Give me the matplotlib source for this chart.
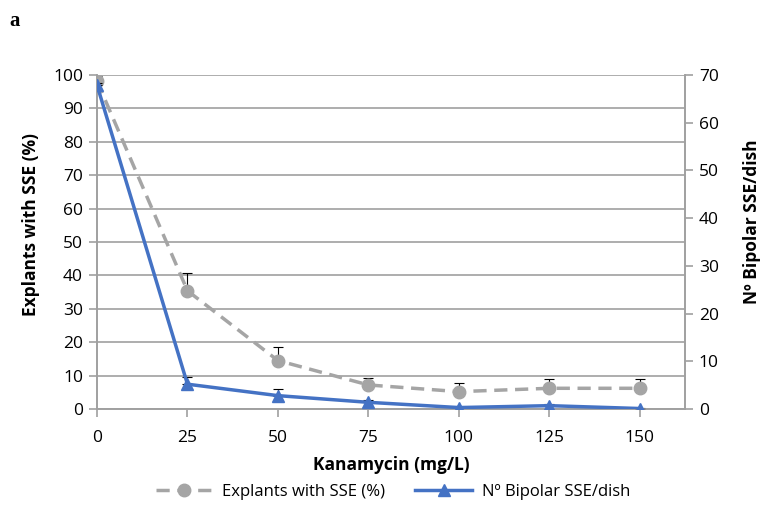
import matplotlib
matplotlib.use("Agg")
import matplotlib.pyplot as plt
from matplotlib.lines import Line2D

kanamycin = [0, 25, 50, 75, 100, 125, 150]
explants_pct = [98.2, 35.4, 14.5, 7.2, 5.2, 6.2, 6.2]
explants_err = [1.5, 5.2, 4.0, 2.0, 2.5, 2.7, 2.7]
bipolar = [67.9, 5.2, 2.8, 1.4, 0.3, 0.7, 0.1]
bipolar_err = [0.5, 1.6, 1.3, 0.5, 0.2, 0.3, 0.1]

plt.rcParams['font.family'] = ['Open Sans', 'DejaVu Sans']

W, H = 770, 523
fig = plt.figure(figsize=(7.7, 5.23), dpi=100)
ax = fig.add_axes([97 / W, 1 - 409 / H, 588 / W, 334 / H])
ax2 = ax.twinx()

gray = '#A5A5A5'
blue = '#4472C4'
axcol = '#A0A0A0'

ax.errorbar(kanamycin, explants_pct, yerr=[[0]*7, explants_err], fmt='none',
            ecolor='black', elinewidth=0.8, capsize=3.3, capthick=0.8, zorder=2)
ax.plot(kanamycin, explants_pct, color=gray, linestyle=(0, (3.8, 2.2)), linewidth=2.5,
        marker='o', markersize=9, zorder=3)
ax2.errorbar(kanamycin, bipolar, yerr=[[0]*7, bipolar_err], fmt='none',
             ecolor='black', elinewidth=0.8, capsize=3.3, capthick=0.8, zorder=2)
ax2.plot(kanamycin, bipolar, color=blue, linewidth=2.5, marker='^', markersize=9, zorder=3)

ax.set_xlim(0, 162.5)
ax.set_ylim(0, 100)
ax2.set_ylim(0, 70)
ax.set_xticks(kanamycin)
ax.set_yticks(range(0, 101, 10))
ax2.set_yticks(range(0, 71, 10))
ax.yaxis.grid(True, color=axcol, linewidth=1.2)
ax.set_axisbelow(True)

for a in (ax, ax2):
    a.spines['top'].set_visible(False)
    for s in ['left', 'right', 'bottom']:
        a.spines[s].set_color(axcol)
        a.spines[s].set_linewidth(1.2)
    a.tick_params(colors=axcol, labelcolor='black', labelsize=12.5, width=1.2, length=6, pad=4)
ax.tick_params(axis='x', pad=9)

fig.text(391 / W, 1 - 465 / H, 'Kanamycin (mg/L)', fontsize=12.5, fontweight='bold',
         ha='center', va='center')
fig.text(31 / W, 1 - 225 / H, 'Explants with SSE (%)', fontsize=12.5, fontweight='bold',
         ha='center', va='center', rotation=90)
fig.text(752 / W, 1 - 222 / H, 'Nº Bipolar SSE/dish', fontsize=12.5, fontweight='bold',
         ha='center', va='center', rotation=90)

handles = [Line2D([], [], color=gray, linestyle=(0, (3.8, 2.2)), linewidth=2.5, marker='o', markersize=9),
           Line2D([], [], color=blue, linewidth=2.5, marker='^', markersize=9)]
fig.legend(handles, ['Explants with SSE (%)', 'Nº Bipolar SSE/dish'], loc='center',
           bbox_to_anchor=(393 / W, 1 - 492 / H), ncol=2, frameon=False, fontsize=12,
           handlelength=3.4, handletextpad=0.6, columnspacing=1.8)

fig.text(0.012, 0.96, 'a', fontsize=15, fontweight='bold', family='Liberation Serif', va='center')

fig.savefig('out.png', dpi=100)
